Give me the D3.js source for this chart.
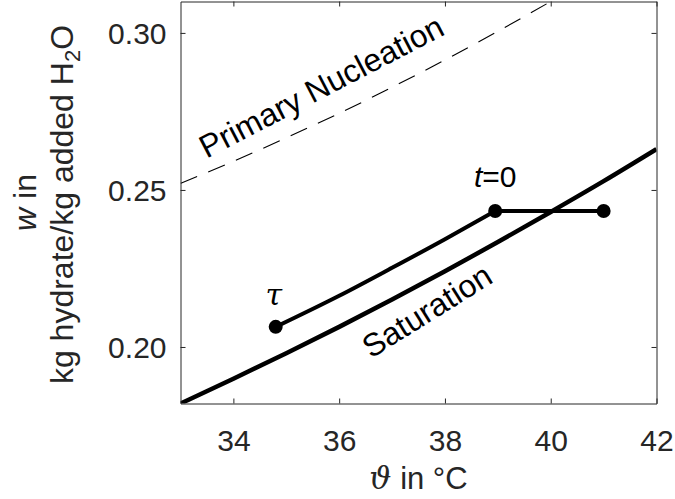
<!DOCTYPE html>
<html>
<head>
<meta charset="utf-8">
<script src="https://cdn.jsdelivr.net/npm/d3@7"></script>
<style>
  html, body { margin: 0; padding: 0; background: #fff; }
  svg { display: block; font-family: "Liberation Sans", Arial, Helvetica, sans-serif; }
</style>
</head>
<body>
<svg id="chart" width="675" height="499"></svg>
<script>
// ---------- data ----------
const xTicks = [34, 36, 38, 40, 42];
const yTicks = [0.20, 0.25, 0.30];
const yTickLabels = ["0.20", "0.25", "0.30"];

// saturation curve (temperature in °C, w)
const satT = [33, 34, 35, 36, 37, 38, 39, 40, 41, 42];
const satW = [0.182, 0.1899, 0.1980, 0.2064, 0.2151, 0.2241, 0.2334, 0.2430, 0.2528, 0.2630];

// primary nucleation curve
const nucT = [33, 34, 35, 36, 37, 38, 39, 40];
const nucW = [0.2521, 0.2591, 0.2666, 0.2744, 0.2827, 0.2914, 0.3005, 0.3100];

// process trajectory (cooling crystallisation)
const procT = [34.8, 36, 37, 38, 38.95];
const procW = [0.2064, 0.2163, 0.2252, 0.2343, 0.2433];

// heating / holding segment
const holdT = [38.95, 41];
const holdW = [0.2433, 0.2433];

// marker points
const markT = [34.8, 38.95, 41];
const markW = [0.2064, 0.2433, 0.2433];

// ---------- layout ----------
const svg = d3.select("#chart");
const L = 180.5, R = 656.5, T = 1.5, B = 403.5;
const x = d3.scaleLinear().domain([33, 42]).range([L, R]);
const y = d3.scaleLinear().domain([0.182, 0.31]).range([B, T]);
const axisColor = "#262626";

svg.append("defs").append("clipPath").attr("id", "clip")
  .append("rect").attr("x", L).attr("y", T).attr("width", R - L).attr("height", B - T);

const zip = (a, b) => a.map((v, i) => [v, b[i]]);
const line = d3.line().x(d => x(d[0])).y(d => y(d[1])).curve(d3.curveMonotoneX);

const plot = svg.append("g").attr("clip-path", "url(#clip)");

// nucleation (dashed)
plot.append("path").datum(zip(nucT, nucW)).attr("d", line)
  .attr("fill", "none").attr("stroke", "#000").attr("stroke-width", 1.1)
  .attr("stroke-dasharray", "18,12");

// saturation
plot.append("path").datum(zip(satT, satW)).attr("d", line)
  .attr("fill", "none").attr("stroke", "#000").attr("stroke-width", 4.5);

// process path
plot.append("path").datum(zip(procT, procW)).attr("d", line)
  .attr("fill", "none").attr("stroke", "#000").attr("stroke-width", 4);
plot.append("path").datum(zip(holdT, holdW)).attr("d", line)
  .attr("fill", "none").attr("stroke", "#000").attr("stroke-width", 4);

plot.selectAll("circle.m").data(zip(markT, markW)).enter().append("circle")
  .attr("class", "m").attr("cx", d => x(d[0])).attr("cy", d => y(d[1])).attr("r", 7)
  .attr("fill", "#000");

// ---------- axes (box with inward ticks) ----------
const tickLen = 5;
const gx = svg.append("g").attr("transform", `translate(0,${B})`)
  .call(d3.axisBottom(x).tickValues(xTicks).tickSizeInner(-tickLen).tickSizeOuter(0).tickPadding(14).tickFormat(d3.format("d")));
const gxt = svg.append("g").attr("transform", `translate(0,${T})`)
  .call(d3.axisTop(x).tickValues(xTicks).tickSizeInner(-tickLen).tickSizeOuter(0).tickFormat(""));
const gy = svg.append("g").attr("transform", `translate(${L},0)`)
  .call(d3.axisLeft(y).tickValues(yTicks).tickSizeInner(-tickLen).tickSizeOuter(0).tickPadding(14)
    .tickFormat((d, i) => yTickLabels[i]));
const gyr = svg.append("g").attr("transform", `translate(${R},0)`)
  .call(d3.axisRight(y).tickValues(yTicks).tickSizeInner(-tickLen).tickSizeOuter(0).tickFormat(""));

[gx, gxt, gy, gyr].forEach(g => {
  g.select(".domain").attr("stroke", axisColor).attr("stroke-width", 1);
  g.selectAll(".tick line").attr("stroke", axisColor).attr("stroke-width", 1);
  g.selectAll("text").attr("fill", axisColor).style("font-size", "30px")
    .style("font-family", '"Liberation Sans", Arial, sans-serif');
});
gx.selectAll(".tick text").attr("dy", null).attr("y", 47);
gy.selectAll(".tick text").attr("x", -14).attr("dy", "0.35em");

// ---------- axis labels ----------
const xl = svg.append("text").attr("x", (L + R) / 2).attr("y", 489).attr("text-anchor", "middle")
  .attr("fill", axisColor).style("font-size", "31px");
xl.append("tspan").text("ϑ").style("font-family", '"DejaVu Serif", serif').style("font-style", "italic");
xl.append("tspan").text(" in °C");

const cy = (T + B) / 2;
const yl1 = svg.append("text").attr("transform", `translate(36,${cy}) rotate(-90)`)
  .attr("text-anchor", "middle").attr("fill", axisColor).style("font-size", "32px");
yl1.append("tspan").text("w").style("font-style", "italic");
yl1.append("tspan").text(" in");

const yl2 = svg.append("text").attr("transform", `translate(73,${cy + 2}) rotate(-90)`)
  .attr("text-anchor", "middle").attr("fill", axisColor).style("font-size", "32px");
yl2.append("tspan").text("kg hydrate/kg added H");
yl2.append("tspan").text("2").style("font-size", "22px").attr("dy", 7);
yl2.append("tspan").text("O").attr("dy", -7);

// ---------- annotations ----------
svg.append("text")
  .attr("transform", `translate(${x(35.76)},${y(0.2798)}) rotate(-27.5)`)
  .attr("text-anchor", "middle").style("font-size", "32px").attr("fill", "#000")
  .text("Primary Nucleation");

svg.append("text")
  .attr("transform", `translate(${x(37.77)},${y(0.2085)}) rotate(-32)`)
  .attr("text-anchor", "middle").style("font-size", "32px").attr("fill", "#000")
  .text("Saturation");

const t0 = svg.append("text").attr("x", x(markT[1])).attr("y", 187)
  .attr("text-anchor", "middle").style("font-size", "30px").attr("fill", "#000");
t0.append("tspan").text("t").style("font-style", "italic");
t0.append("tspan").text("=0");

svg.append("text").attr("x", x(markT[0]) - 2).attr("y", 305)
  .attr("text-anchor", "middle").style("font-size", "30px")
  .style("font-family", '"DejaVu Serif", serif').style("font-style", "italic")
  .attr("fill", "#000").text("τ");
</script>
</body>
</html>
